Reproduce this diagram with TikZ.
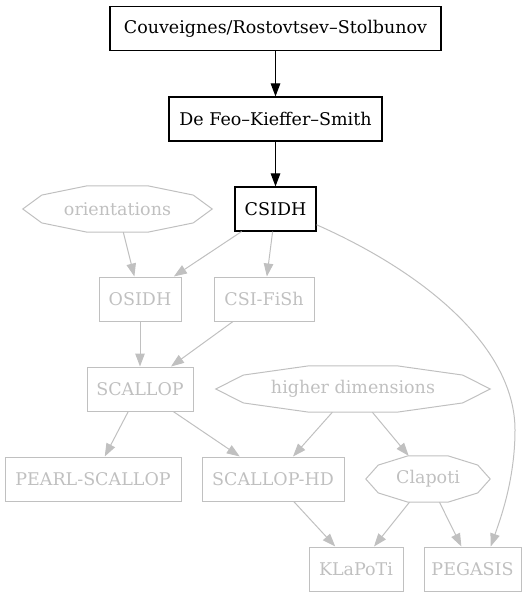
\documentclass[tikz,border=0pt]{standalone}
\usepackage{fontspec}
\setmainfont{DejaVu Serif}
\usepackage{tikz}
\usetikzlibrary{arrows.meta,calc}

\definecolor{faded}{RGB}{192,192,192}

% outline of a graphviz-like octagon round a (frameless) node
\newcommand{\octaframe}[1]{%
  \draw[faded, line width=1pt] let \p1=(#1.north west), \p2=(#1.south east),
      \n1={\x2-\x1}, \n2={\y2-\y1} in
    (\x1,{\y1+0.5*\n2}) -- ({\x1+0.1*\n1},{\y1+0.2*\n2})
    -- ({\x1+0.34*\n1},\y1) -- ({\x1+0.66*\n1},\y1)
    -- ({\x1+0.9*\n1},{\y1+0.2*\n2}) -- (\x2,{\y1+0.5*\n2})
    -- ({\x1+0.9*\n1},{\y1+0.8*\n2}) -- ({\x1+0.66*\n1},\y2)
    -- ({\x1+0.34*\n1},\y2) -- ({\x1+0.1*\n1},{\y1+0.8*\n2}) -- cycle;}

\begin{document}
\begin{tikzpicture}[
    x=1pt, y=-1pt,
    font=\fontsize{17.5}{20}\selectfont,
    >={Triangle[length=13pt,width=9.5pt]},
    lead/.style={draw=black, line width=1.1pt, minimum height=44pt, inner sep=2pt},
    paper/.style={draw=faded, text=faded, line width=1pt, minimum height=44pt, inner sep=2pt},
    topic/.style={text=faded, minimum height=46pt, inner sep=2pt},
    arr/.style={->, line width=1.1pt, black},
    dimarr/.style={->, line width=1pt, faded},
  ]
    \useasboundingbox (0,0) rectangle (529,593);

    % --- main line ---
    \node[lead, minimum width=331pt] (crs)   at (275.5,28.5) {Couveignes/Rostovtsev--Stolbunov};
    \node[lead, minimum width=213pt] (dfks)  at (275.5,119) {De Feo--Kieffer--Smith};
    \node[lead, minimum width=81pt]  (csidh) at (275.5,209) {CSIDH};

    % --- topics ---
    \node[topic, minimum width=189pt] (orient) at (117.5,209) {orientations};
    \node[topic, minimum width=274pt] (hidim)  at (353,389) {higher dimensions};
    \node[topic, minimum width=124pt] (clapoti) at (428,479) {Clapoti};
    \octaframe{orient}
    \octaframe{hidim}
    \octaframe{clapoti}

    % --- follow-up schemes ---
    \node[paper, minimum width=82pt]  (osidh)   at (140,299) {OSIDH};
    \node[paper, minimum width=100pt] (csifish) at (264,299) {CSI-FiSh};
    \node[paper, minimum width=106pt] (scallop) at (140,389) {SCALLOP};
    \node[paper, minimum width=176pt] (pearl)   at (93,479) {PEARL-SCALLOP};
    \node[paper, minimum width=142pt] (schd)    at (273,479) {SCALLOP-HD};
    \node[paper, minimum width=94pt]  (klapoti) at (356,569) {KLaPoTi};
    \node[paper, minimum width=97pt]  (pegasis) at (472.5,569) {PEGASIS};

    % --- arrows ---
    \draw[arr] (crs) -- (dfks);
    \draw[arr] (dfks) -- (csidh);

    \draw[dimarr] (csidh) -- (osidh);
    \draw[dimarr] (csidh) -- (csifish);
    \draw[dimarr] (orient) -- (osidh);
    \draw[dimarr] (osidh) -- (scallop);
    \draw[dimarr] (csifish) -- (scallop);
    \draw[dimarr] (scallop) -- (pearl);
    \draw[dimarr] (scallop) -- (schd);
    \draw[dimarr] (hidim) -- (schd);
    \draw[dimarr] (hidim) -- (clapoti);
    \draw[dimarr] (schd) -- (klapoti);
    \draw[dimarr] (clapoti) -- (klapoti);
    \draw[dimarr] (clapoti) -- (pegasis);
    \draw[dimarr] (csidh.-21) .. controls (430,275) and (515,350) .. (515,430)
      .. controls (515,480) and (500,520) .. (pegasis.51);
  \end{tikzpicture}
\end{document}
